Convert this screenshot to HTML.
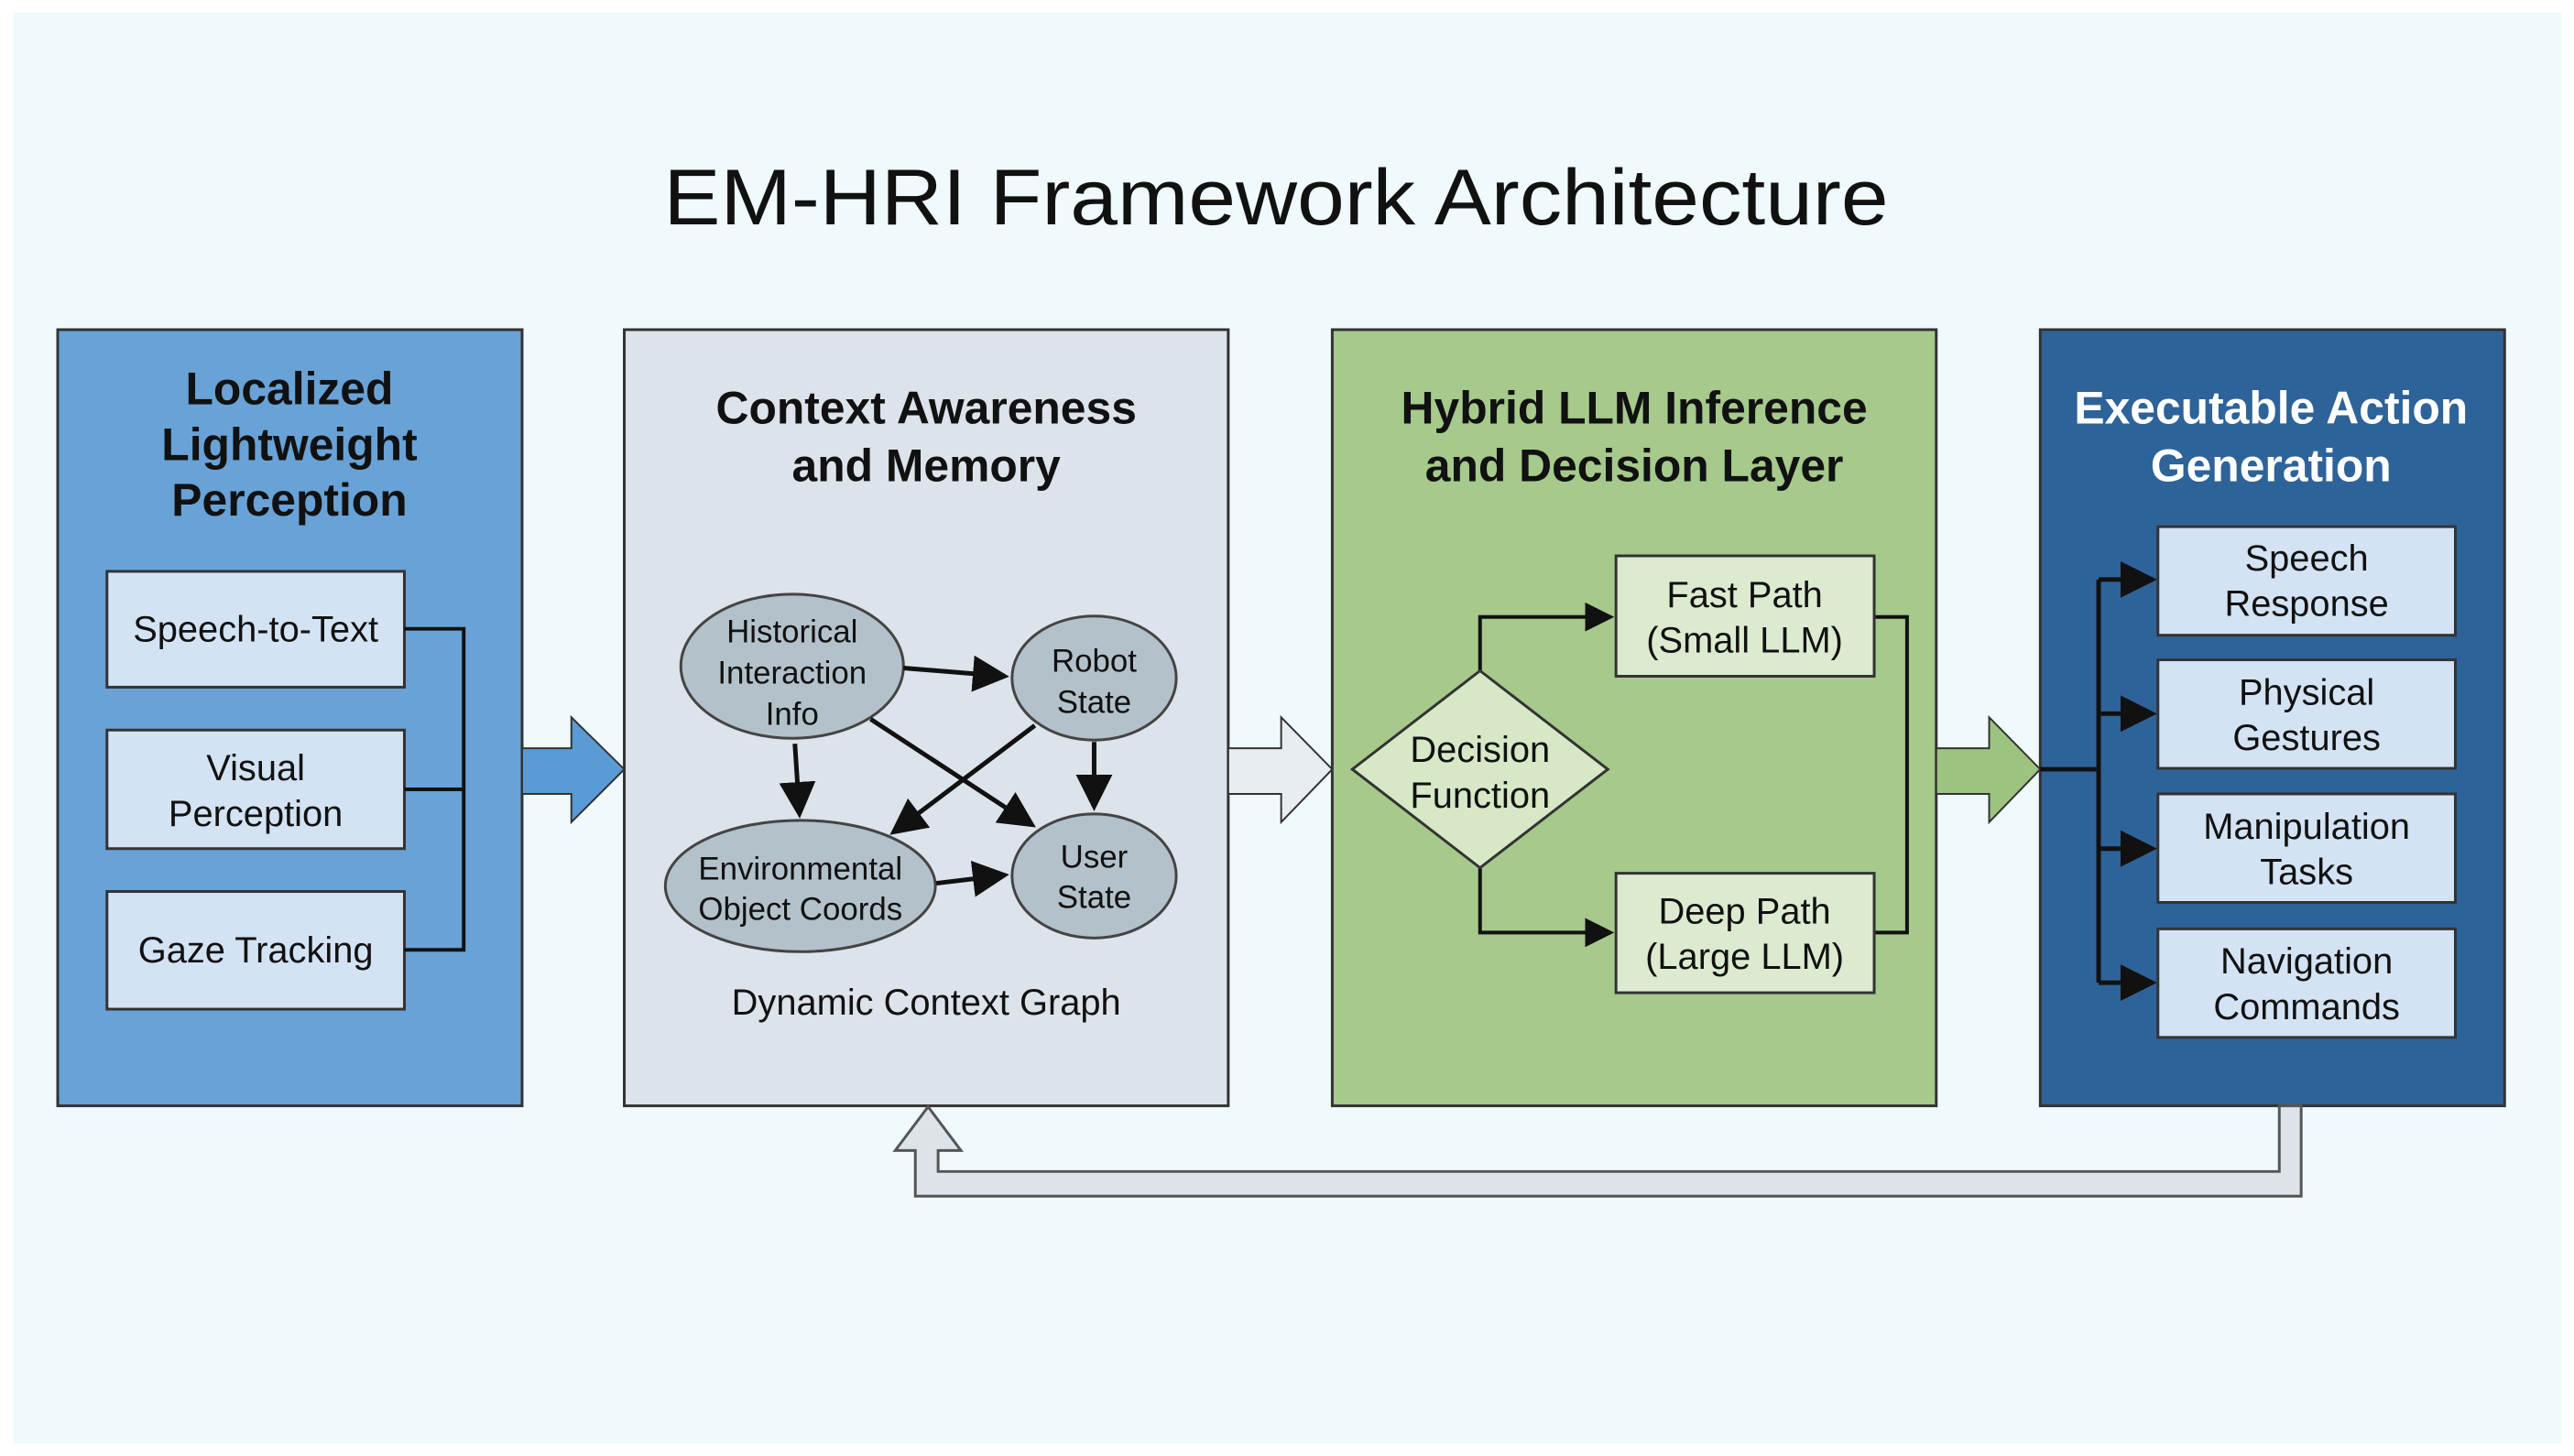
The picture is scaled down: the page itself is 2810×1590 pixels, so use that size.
<!DOCTYPE html>
<html><head><meta charset="utf-8"><style>
html,body{margin:0;padding:0;background:#fff;}
svg{display:block}
text{font-family:"Liberation Sans",Arial,sans-serif;}
</style></head><body>
<svg width="2810" height="1590" viewBox="0 0 2810 1590" xmlns="http://www.w3.org/2000/svg">
<defs>
<marker id="ah" markerWidth="8" markerHeight="8" refX="7" refY="4" orient="auto" markerUnits="strokeWidth">
<path d="M0,0 L8,4 L0,8 z" fill="#111"/></marker>
</defs>
<rect x="14" y="14" width="2782" height="1562" fill="#f0fafd"/>
<text x="1393" y="245" font-size="86" text-anchor="middle" fill="#111" textLength="1337" lengthAdjust="spacingAndGlyphs">EM-HRI Framework Architecture</text>
<g transform="translate(63,360) scale(0.996) translate(-63,-360)">
<!-- Panel 1 -->
<rect x="63" y="360" width="509" height="851" fill="#68a2d6" stroke="#333" stroke-width="3"/>
<g font-size="50" font-weight="bold" text-anchor="middle" fill="#111">
<text x="317" y="442">Localized</text><text x="317" y="503">Lightweight</text><text x="317" y="564">Perception</text></g>
<g fill="#d3e3f4" stroke="#333" stroke-width="3">
<rect x="117" y="625" width="326" height="127"/><rect x="117" y="799" width="326" height="130"/><rect x="117" y="976" width="326" height="129"/></g>
<g font-size="40" text-anchor="middle" fill="#111">
<text x="280" y="702">Speech-to-Text</text>
<text x="280" y="854">Visual</text><text x="280" y="904">Perception</text>
<text x="280" y="1054">Gaze Tracking</text></g>
<path d="M443,688 H508 V1040 H443 M443,864 H508" fill="none" stroke="#111" stroke-width="4"/>
<polygon points="572,819 626,819 626,785 684,842 626,900 626,869 572,869" fill="#5b9bd5" stroke="#333" stroke-width="2"/>

<!-- Panel 2 -->
<rect x="684" y="360" width="662" height="851" fill="#dde3ea" stroke="#333" stroke-width="3"/>
<g font-size="50" font-weight="bold" text-anchor="middle" fill="#111">
<text x="1015" y="463">Context Awareness</text><text x="1015" y="526">and Memory</text></g>
<g fill="#b3c1ca" stroke="#444" stroke-width="3">
<ellipse cx="868" cy="729" rx="122" ry="79"/><ellipse cx="1199" cy="742" rx="90" ry="68"/>
<ellipse cx="877" cy="970" rx="148" ry="72"/><ellipse cx="1199" cy="959" rx="90" ry="68"/></g>
<g font-size="35" text-anchor="middle" fill="#111">
<text x="868" y="703">Historical</text><text x="868" y="748">Interaction</text><text x="868" y="793">Info</text>
<text x="1199" y="735">Robot</text><text x="1199" y="780">State</text>
<text x="877" y="963">Environmental</text><text x="877" y="1007">Object Coords</text>
<text x="1199" y="950">User</text><text x="1199" y="994">State</text></g>
<g stroke="#111" stroke-width="5" fill="none" marker-end="url(#ah)">
<line x1="990" y1="731" x2="1101" y2="740"/>
<line x1="871" y1="814" x2="876" y2="891"/>
<line x1="954" y1="787" x2="1131" y2="903"/>
<line x1="1134" y1="794" x2="979" y2="911"/>
<line x1="1199" y1="812" x2="1199" y2="883"/>
<line x1="1026" y1="967" x2="1101" y2="958"/></g>
<text x="1015" y="1111" font-size="40" text-anchor="middle" fill="#111">Dynamic Context Graph</text>
<polygon points="1346,819 1404,819 1404,785 1460,842 1404,900 1404,869 1346,869" fill="#e8edf1" stroke="#333" stroke-width="2"/>

<!-- Panel 3 -->
<rect x="1460" y="360" width="662" height="851" fill="#a6c98c" stroke="#333" stroke-width="3"/>
<g font-size="50" font-weight="bold" text-anchor="middle" fill="#111">
<text x="1791" y="463">Hybrid LLM Inference</text><text x="1791" y="526">and Decision Layer</text></g>
<path d="M1622,734 V675 H1765" fill="none" stroke="#111" stroke-width="4" marker-end="url(#ah)"/>
<path d="M1622,950 V1021 H1765" fill="none" stroke="#111" stroke-width="4" marker-end="url(#ah)"/>
<path d="M2054,675 H2090 V1021 H2054" fill="none" stroke="#111" stroke-width="4"/>
<polygon points="1622,734 1762,842 1622,950 1482,842" fill="#d6e8c6" stroke="#333" stroke-width="3"/>
<g font-size="40" text-anchor="middle" fill="#111">
<text x="1622" y="834">Decision</text><text x="1622" y="884">Function</text></g>
<g fill="#dcebd0" stroke="#333" stroke-width="3">
<rect x="1771" y="608" width="283" height="132"/><rect x="1771" y="956" width="283" height="131"/></g>
<g font-size="40" text-anchor="middle" fill="#111">
<text x="1912" y="664">Fast Path</text><text x="1912" y="714">(Small LLM)</text>
<text x="1912" y="1011">Deep Path</text><text x="1912" y="1061">(Large LLM)</text></g>
<polygon points="2122,819 2180,819 2180,785 2236,842 2180,900 2180,869 2122,869" fill="#9cc47e" stroke="#333" stroke-width="2"/>

<!-- Panel 4 -->
<rect x="2236" y="360" width="509" height="851" fill="#2e6399" stroke="#333" stroke-width="3"/>
<g font-size="50" font-weight="bold" text-anchor="middle" fill="#fff">
<text x="2489" y="463">Executable Action</text><text x="2489" y="526">Generation</text></g>
<path d="M2236,842 H2300 M2300,634 V1076" fill="none" stroke="#111" stroke-width="5"/>
<g stroke="#111" stroke-width="5" fill="none" marker-end="url(#ah)">
<line x1="2300" y1="634" x2="2359" y2="634"/><line x1="2300" y1="781" x2="2359" y2="781"/>
<line x1="2300" y1="929" x2="2359" y2="929"/><line x1="2300" y1="1076" x2="2359" y2="1076"/></g>
<g fill="#d3e3f4" stroke="#333" stroke-width="3">
<rect x="2365" y="576" width="326" height="119"/><rect x="2365" y="722" width="326" height="119"/>
<rect x="2365" y="869" width="326" height="119"/><rect x="2365" y="1017" width="326" height="119"/></g>
<g font-size="40" text-anchor="middle" fill="#111">
<text x="2528" y="624">Speech</text><text x="2528" y="674">Response</text>
<text x="2528" y="771">Physical</text><text x="2528" y="821">Gestures</text>
<text x="2528" y="918">Manipulation</text><text x="2528" y="968">Tasks</text>
<text x="2528" y="1066">Navigation</text><text x="2528" y="1116">Commands</text></g>

<!-- Feedback arrow -->
<polygon points="2522,1211 2522,1310 1003,1310 1003,1260 981,1260 1017,1212 1053,1260 1028,1260 1028,1283 2498,1283 2498,1211" fill="#dde3e9" stroke="#555" stroke-width="3"/>
</g>
</svg>
</body></html>
